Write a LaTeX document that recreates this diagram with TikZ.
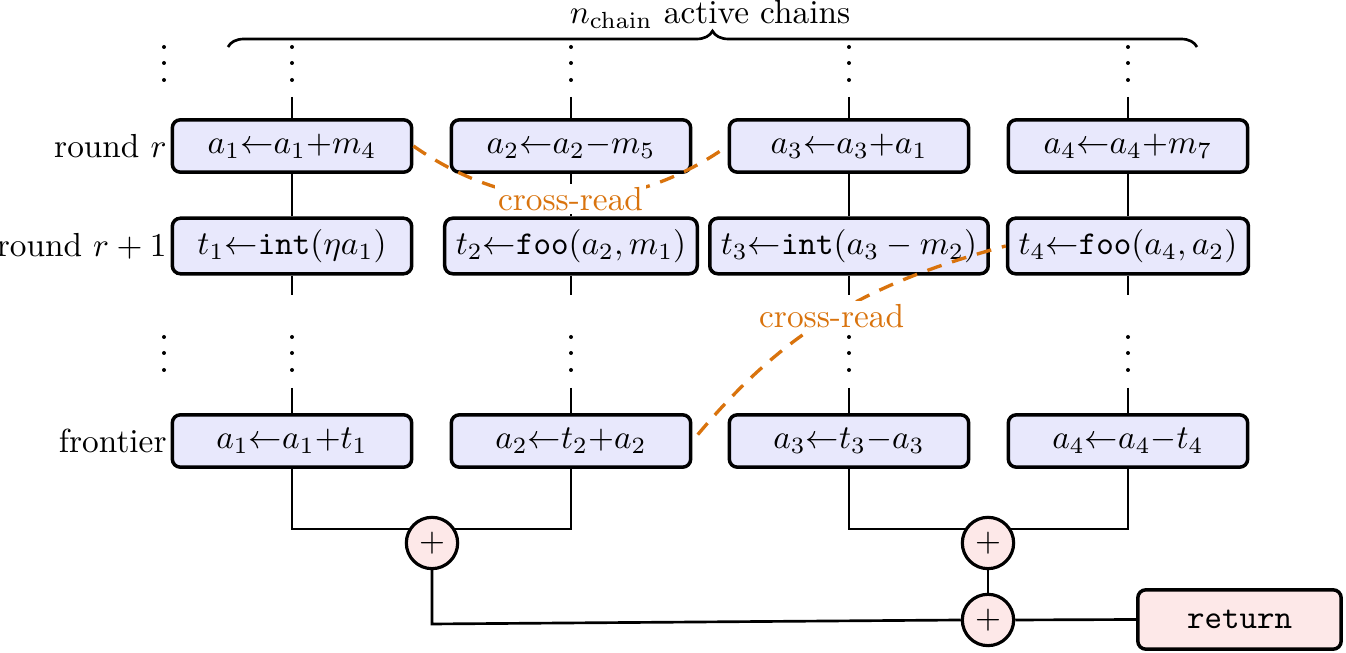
\documentclass[tikz,border=0pt]{standalone}
\usetikzlibrary{decorations.pathreplacing,backgrounds}
\definecolor{boxfill}{RGB}{232,232,252}
\definecolor{pinkfill}{RGB}{253,232,232}
\definecolor{crossc}{RGB}{217,115,13}
\tikzset{
 opbox/.style={draw, line width=1.05pt, rounded corners=2.4pt, fill=boxfill, minimum width=71.8pt, minimum height=15.7pt, inner sep=3.33pt},
 plusnode/.style={circle, draw, line width=0.95pt, fill=pinkfill, minimum size=15.4pt, inner sep=0pt},
 retbox/.style={draw, line width=1.05pt, rounded corners=2.4pt, fill=pinkfill, minimum width=61pt, minimum height=17.8pt},
 conn/.style={line width=0.8pt},
 cross/.style={crossc, line width=1pt, dash pattern=on 4.5pt off 3.3pt},
 crosslbl/.style={text=crossc, fill=white, inner sep=1pt},
 rowlbl/.style={anchor=east, inner sep=1pt},
}
\begin{document}
\begin{tikzpicture}[x=0.3pt,y=0.3pt]
\useasboundingbox (0,0) rectangle (1346,653);
% row r
\node[opbox] (r1) at (292,507) {$a_1{\leftarrow}a_1{+}m_4$};
\node[opbox] (r2) at (571,507) {$a_2{\leftarrow}a_2{-}m_5$};
\node[opbox] (r3) at (849,507) {$a_3{\leftarrow}a_3{+}a_1$};
\node[opbox] (r4) at (1128,507) {$a_4{\leftarrow}a_4{+}m_7$};
% row r+1
\node[opbox] (t1) at (292,407) {$t_1{\leftarrow}\texttt{int}(\eta a_1)$};
\node[opbox] (t2) at (571,407) {$t_2{\leftarrow}\texttt{foo}(a_2,m_1)$};
\node[opbox] (t3) at (849,407) {$t_3{\leftarrow}\texttt{int}(a_3-m_2)$};
\node[opbox] (t4) at (1128,407) {$t_4{\leftarrow}\texttt{foo}(a_4,a_2)$};
% frontier
\node[opbox] (f1) at (292,212) {$a_1{\leftarrow}a_1{+}t_1$};
\node[opbox] (f2) at (571,212) {$a_2{\leftarrow}t_2{+}a_2$};
\node[opbox] (f3) at (849,212) {$a_3{\leftarrow}t_3{-}a_3$};
\node[opbox] (f4) at (1128,212) {$a_4{\leftarrow}a_4{-}t_4$};
% row labels
\node[rowlbl] (lr) at (r1.west) {round $r$};
\node[rowlbl] (lr1) at (t1.west) {round $r+1$};
\node[rowlbl] (lf) at (f1.west) {frontier};
% reduction
\node[plusnode] (p1) at (432,110) {$+$};
\node[plusnode] (p2) at (988,110) {$+$};
\node[plusnode] (p3) at (988,33) {$+$};
\node[retbox] (ret) at (1239.5,33.5) {\texttt{return}};
% brace
\coordinate (bl) at (228,606);
\coordinate (br) at (1197,606);
\draw[line width=0.8pt, decorate, decoration={brace, amplitude=4.8pt}] (bl) -- (br);
\node (chains) at (710,639) {$n_{\mathrm{chain}}$ active chains};
% dots
\foreach \x in {164,292,571,849,1128} {
  \foreach \y in {606,590,573,316,300,283} {
    \fill (\x,\y) circle (0.6pt);
  }
}
\coordinate (j1) at (432,124);
\coordinate (j2) at (988,124);
\coordinate (k1) at (432,29);
\begin{scope}[on background layer]
\foreach \c/\x in {1/292,2/571,3/849,4/1128} {
  \coordinate (top\c) at (\x,556);
  \coordinate (mida\c) at (\x,358);
  \coordinate (midb\c) at (\x,265);
  \draw[conn] (top\c) -- (r\c.north);
  \draw[conn] (r\c.south) -- (t\c.north);
  \draw[conn] (t\c.south) -- (mida\c);
  \draw[conn] (midb\c) -- (f\c.north);
}
\draw[conn] (f1.south) |- (j1) -| (f2.south);
\draw[conn] (f3.south) |- (j2) -| (f4.south);
\draw[conn] (p1.south) -- (k1) -- (p3.west);
\draw[conn] (p2.south) -- (p3.north);
\draw[conn] (p3.east) -- (ret.west);
\end{scope}
% cross reads
\draw[cross] (r1.east) to[out=-35,in=-145] node[crosslbl] (cr1) {cross-read} (r3.west);
\draw[cross, shorten <=2.5pt] (f2.east) to[out=50,in=195] node[crosslbl] (cr2) {cross-read} (t4.west);
\end{tikzpicture}
\end{document}
